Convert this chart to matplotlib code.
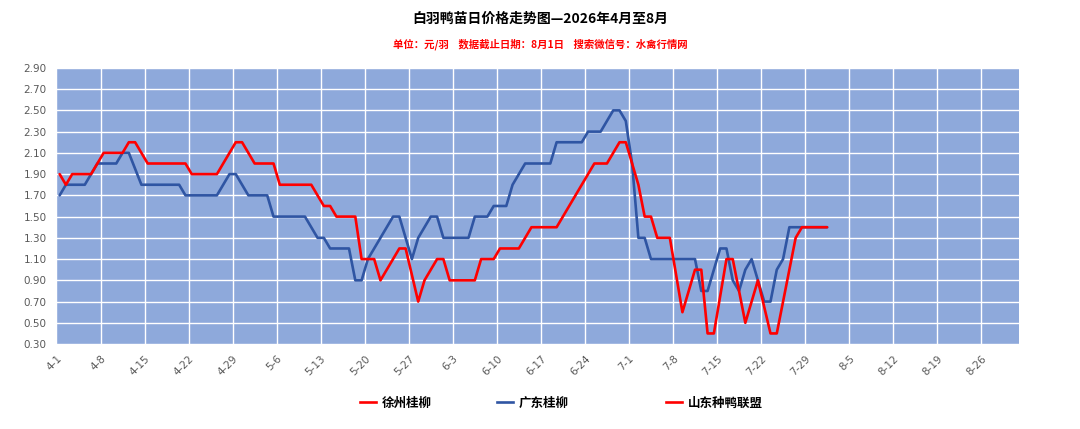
import matplotlib
matplotlib.use("Agg")
import matplotlib.pyplot as plt
from matplotlib.lines import Line2D
import pandas as pd

plt.rcParams['font.family'] = ['Noto Sans CJK SC', 'DejaVu Sans']

TITLE = "白羽鸭苗日价格走势图—2026年4月至8月"
SUBTITLE = "单位：元/羽    数据截止日期：8月1日    搜索微信号：水禽行情网"
START, END = "2026-04-01", "2026-08-31"

tick_labels = ["4-1", "4-8", "4-15", "4-22", "4-29", "5-6", "5-13", "5-20",
               "5-27", "6-3", "6-10", "6-17", "6-24", "7-1", "7-8", "7-15",
               "7-22", "7-29", "8-5", "8-12", "8-19", "8-26"]

# 徐州桂柳 (red) - turning points
xz_dates = ["4-1", "4-2", "4-3", "4-6", "4-8", "4-11", "4-12", "4-13", "4-15",
            "4-21", "4-22", "4-26", "4-29", "4-30", "5-2", "5-5", "5-6", "5-11",
            "5-13", "5-14", "5-15", "5-18", "5-19", "5-21", "5-22", "5-25",
            "5-26", "5-28", "5-29", "5-31", "6-1", "6-2", "6-6", "6-7", "6-9",
            "6-10", "6-13", "6-15", "6-19", "6-25", "6-27", "6-29", "6-30",
            "7-1", "7-2", "7-3", "7-4", "7-5", "7-7", "7-9", "7-11", "7-12",
            "7-13", "7-14", "7-16", "7-17", "7-19", "7-21", "7-23", "7-24",
            "7-27", "7-28", "8-1"]
xz_prices = [1.90, 1.80, 1.90, 1.90, 2.10, 2.10, 2.20, 2.20, 2.00,
             2.00, 1.90, 1.90, 2.20, 2.20, 2.00, 2.00, 1.80, 1.80,
             1.60, 1.60, 1.50, 1.50, 1.10, 1.10, 0.90, 1.20,
             1.20, 0.70, 0.90, 1.10, 1.10, 0.90, 0.90, 1.10, 1.10,
             1.20, 1.20, 1.40, 1.40, 2.00, 2.00, 2.20, 2.20,
             2.00, 1.80, 1.50, 1.50, 1.30, 1.30, 0.60, 1.00, 1.00,
             0.40, 0.40, 1.10, 1.10, 0.50, 0.90, 0.40, 0.40,
             1.30, 1.40, 1.40]

# 广东桂柳 (blue)
gd_dates = ["4-1", "4-2", "4-5", "4-7", "4-10", "4-11", "4-12", "4-14", "4-20",
            "4-21", "4-26", "4-28", "4-29", "5-1", "5-4", "5-5", "5-10", "5-12",
            "5-13", "5-14", "5-17", "5-18", "5-19", "5-20", "5-21", "5-24",
            "5-25", "5-27", "5-28", "5-30", "5-31", "6-1", "6-5", "6-6", "6-8",
            "6-9", "6-11", "6-12", "6-14", "6-18", "6-19", "6-23", "6-24",
            "6-26", "6-28", "6-29", "6-30", "7-1", "7-2", "7-3", "7-4", "7-11",
            "7-12", "7-13", "7-14", "7-15", "7-16", "7-17", "7-18", "7-19",
            "7-20", "7-21", "7-22", "7-23", "7-24", "7-25", "7-26", "8-1"]
gd_prices = [1.70, 1.80, 1.80, 2.00, 2.00, 2.10, 2.10, 1.80, 1.80,
             1.70, 1.70, 1.90, 1.90, 1.70, 1.70, 1.50, 1.50, 1.30,
             1.30, 1.20, 1.20, 0.90, 0.90, 1.10, 1.20, 1.50,
             1.50, 1.10, 1.30, 1.50, 1.50, 1.30, 1.30, 1.50, 1.50,
             1.60, 1.60, 1.80, 2.00, 2.00, 2.20, 2.20, 2.30,
             2.30, 2.50, 2.50, 2.40, 2.00, 1.30, 1.30, 1.10, 1.10,
             0.80, 0.80, 1.00, 1.20, 1.20, 0.90, 0.80, 1.00,
             1.10, 0.90, 0.70, 0.70, 1.00, 1.10, 1.40, 1.40]

# 山东种鸭联盟 (red) - legend entry only, no visible data
sd_dates = []
sd_prices = []

RED = "#FF0000"
BLUE = "#2F55A3"
BG = "#8EA9DB"
GREY = "#595959"


def day_pos(labels, offset=0.5):
    start = pd.Timestamp(START)
    return [(pd.Timestamp(f"2026-{s}") - start).days + offset for s in labels]


n_days = (pd.Timestamp(END) - pd.Timestamp(START)).days + 1

fig = plt.figure(figsize=(10.8, 4.29), dpi=100)
ax = fig.add_axes([0.0523, 0.198, 0.8912, 0.6437])
ax.set_facecolor(BG)

ax.plot(day_pos(gd_dates), gd_prices, color=BLUE, lw=1.9, zorder=3,
        solid_joinstyle="round", solid_capstyle="round")
ax.plot(day_pos(xz_dates), xz_prices, color=RED, lw=1.9, zorder=4,
        solid_joinstyle="round", solid_capstyle="round")
ax.plot(day_pos(sd_dates), sd_prices, color=RED, lw=1.9, zorder=4)

yt = [round(0.3 + 0.2 * i, 2) for i in range(14)]
ax.set_ylim(0.3, 2.9)
ax.set_yticks(yt)
ax.set_yticklabels([f"{v:.2f}" for v in yt], fontsize=7.5, color=GREY,
                   family="DejaVu Sans")
ax.set_xlim(0, n_days)
ax.set_xticks(day_pos(tick_labels, offset=0))
ax.set_xticklabels(tick_labels, rotation=45, ha="right", va="top",
                   rotation_mode="anchor", fontsize=7.5, color=GREY,
                   family="DejaVu Sans")
ax.tick_params(length=0, pad=7)
ax.grid(True, color="white", lw=1.0, zorder=1)
ax.set_axisbelow(True)
for s in ax.spines.values():
    s.set_visible(False)

fig.text(0.5, 1 - 19 / 429, TITLE, ha="center", va="center", fontsize=10,
         fontweight="bold", color="black")
fig.text(0.5, 1 - 44 / 429, SUBTITLE, ha="center", va="center", fontsize=7.5,
         fontweight="bold", color=RED)

legend_items = [("徐州桂柳", RED, 360), ("广东桂柳", BLUE, 497),
                ("山东种鸭联盟", RED, 666)]
for label, color, xpix in legend_items:
    h = Line2D([], [], color=color, lw=1.9)
    fig.legend(handles=[h], labels=[label], loc="center left",
               bbox_to_anchor=(xpix / 1080, 1 - 403 / 429), frameon=False,
               borderpad=0, borderaxespad=0, handlelength=1.3,
               handletextpad=0.45, prop={"size": 9, "weight": "bold"})

fig.savefig("out.png", dpi=100)
